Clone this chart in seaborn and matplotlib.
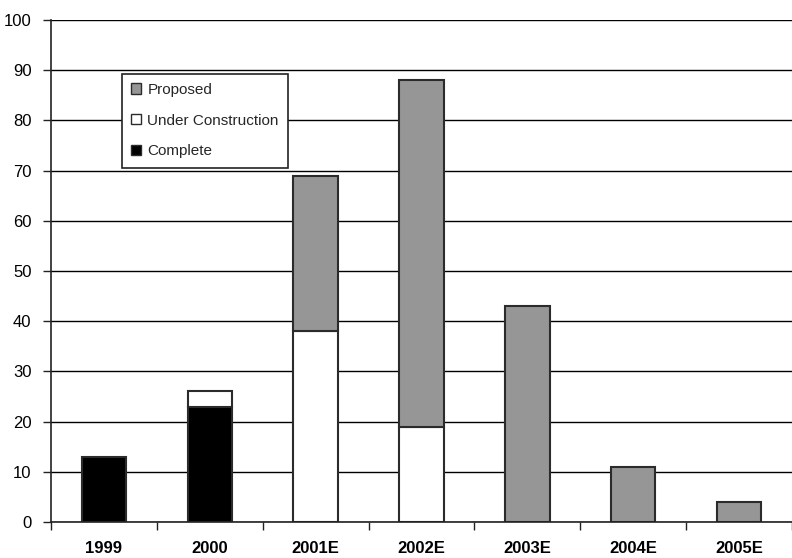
import numpy as np
import pandas as pd
import matplotlib
matplotlib.use("Agg")
import matplotlib.pyplot as plt
from matplotlib.patches import Patch
import seaborn as sns

# data
years = ["1999", "2000", "2001E", "2002E", "2003E", "2004E", "2005E"]
complete = [13, 23, 0, 0, 0, 0, 0]
under_construction = [0, 3, 38, 19, 0, 0, 0]
proposed = [0, 0, 31, 69, 43, 11, 4]

sns.set_theme(style="white")
plt.rcParams['font.family'] = ['Liberation Sans', 'DejaVu Sans']

df = pd.DataFrame({
    "year": years,
    "complete": complete,
    "uc": under_construction,
    "proposed": proposed,
})
df["bottom_c"] = 0
df["bottom_uc"] = df["complete"]
df["bottom_p"] = df["complete"] + df["uc"]

fig = plt.figure(figsize=(7.92, 5.58), dpi=100)
ax = fig.add_axes([51 / 792, 36 / 558, 741 / 792, 502 / 558])

edge = "#2b2b2b"
bar_w = 0.42
layers = [
    ("complete", "bottom_c", "#000000"),
    ("uc", "bottom_uc", "#ffffff"),
    ("proposed", "bottom_p", "#969696"),
]
for col, bottom_col, color in layers:
    sub = df[df[col] > 0]
    sns.barplot(data=sub, x="year", y=col, order=years,
                color=color, edgecolor=edge, linewidth=1.5, width=bar_w, saturation=1,
                errorbar=None, ax=ax, bottom=sub[bottom_col].to_numpy())

ax.set_xlim(-0.5, len(years) - 0.5)
ax.set_ylim(0, 100)
ax.set_yticks(range(0, 101, 10))
ax.set_axisbelow(True)
ax.yaxis.grid(True, color="black", linewidth=1)
ax.xaxis.grid(False)

for s in ["top", "right"]:
    ax.spines[s].set_visible(False)
for s in ["left", "bottom"]:
    ax.spines[s].set_visible(True)
    ax.spines[s].set_color("#222222")
    ax.spines[s].set_linewidth(1.2)

ax.set_xlabel("")
ax.set_ylabel("")
ax.tick_params(axis="y", which="major", left=True, length=6, width=1, color="#222222",
               pad=8, labelsize=12, labelcolor="black")
ax.tick_params(axis="x", which="major", bottom=True, length=0, pad=14, labelsize=12,
               labelcolor="black")
ax.set_xticks(np.arange(-0.5, len(years)), minor=True)
ax.tick_params(axis="x", which="minor", bottom=True, length=6, width=1, color="#222222")
for lbl in ax.get_xticklabels():
    lbl.set_fontweight("bold")

handles = [
    Patch(facecolor="#969696", edgecolor=edge, linewidth=1, label="Proposed"),
    Patch(facecolor="#ffffff", edgecolor=edge, linewidth=1, label="Under Construction"),
    Patch(facecolor="#000000", edgecolor=edge, linewidth=1, label="Complete"),
]
leg = ax.legend(handles=handles, loc="upper left", bbox_to_anchor=(0.096, 0.893),
                frameon=True, fancybox=False, framealpha=1, edgecolor="#222222",
                fontsize=11, handlelength=0.65, handleheight=0.65, handletextpad=0.4,
                borderpad=0.6, labelspacing=1.1, borderaxespad=0)
leg.get_frame().set_linewidth(1.2)

fig.savefig("out.png", dpi=100)
